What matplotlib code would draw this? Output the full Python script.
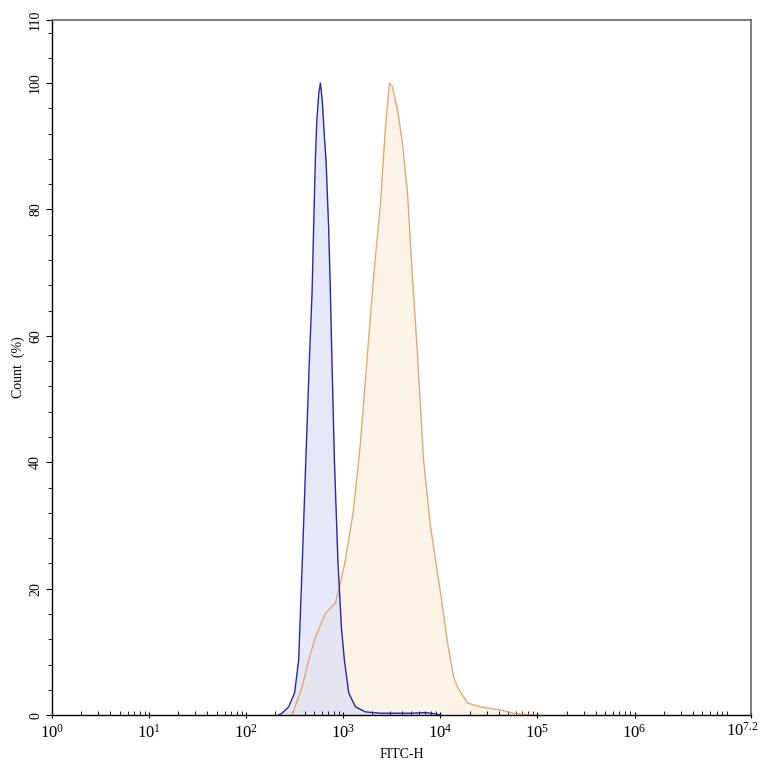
import numpy as np
import matplotlib
matplotlib.use("Agg")
import matplotlib.pyplot as plt
from matplotlib.ticker import FixedLocator, MultipleLocator, FuncFormatter, LogLocator

plt.rcParams['font.family'] = ['Liberation Serif', 'DejaVu Serif']
plt.rcParams['mathtext.fontset'] = 'custom'
plt.rcParams['mathtext.rm'] = 'Liberation Serif'
plt.rcParams['mathtext.it'] = 'Liberation Serif'

# log10(FITC-H) positions and Count (%)
blue_log = [2.331, 2.370, 2.438, 2.499, 2.541, 2.579, 2.615, 2.651, 2.679, 2.695,
            2.713, 2.728, 2.749, 2.765, 2.785, 2.806, 2.823, 2.850, 2.868, 2.881,
            2.909, 2.945, 2.981, 3.012, 3.057, 3.126, 3.229, 3.384, 3.693, 3.848,
            3.951, 4.002]
blue_y = [0, 0.3, 1.3, 3.5, 8.7, 24.5, 40.4, 56, 66.8, 77,
          87.8, 94, 98.5, 100, 97, 91.5, 87.8, 77, 66.8, 57.8,
          40.4, 24.5, 13.9, 8.7, 3.5, 1.3, 0.5, 0.3, 0.3, 0.4,
          0.2, 0]

orange_log = [2.473, 2.576, 2.644, 2.713, 2.816, 2.919, 2.971, 3.022, 3.105,
              3.177, 3.249, 3.311, 3.384, 3.435, 3.476, 3.507, 3.559, 3.610, 3.662,
              3.714, 3.765, 3.827, 3.899, 4.002, 4.075, 4.137, 4.178, 4.281, 4.415,
              4.621, 4.755, 4.962]
orange_y = [0, 4.4, 8.7, 12.3, 16.1, 17.7, 20.9, 24.5, 32.4,
            43, 57, 69, 81, 93, 100, 99.4, 95.8, 90.5, 82.6,
            69, 57, 40.4, 29.8, 19.3, 11.4, 6, 4.4, 1.9, 1.3,
            0.8, 0.3, 0]

x_tick_exp = [0, 1, 2, 3, 4, 5, 6, 7.2]
y_ticks = [0, 20, 40, 60, 80, 100, 110]

blue_x = np.power(10.0, blue_log)
orange_x = np.power(10.0, orange_log)

fig = plt.figure(figsize=(7.64, 7.64), dpi=100)
ax = fig.add_axes([0.068, 0.064, 0.915, 0.910])

ax.fill_between(orange_x, orange_y, color='#fdf0e2', alpha=0.8, lw=0)
ax.fill_between(blue_x, blue_y, color='#d6daf8', alpha=0.6, lw=0)
ax.plot(orange_x, orange_y, color='#e4a874', lw=1.0)
ax.plot(blue_x, blue_y, color='#2a26a8', lw=1.0)

ax.set_xscale('log')
ax.set_xlim(1, 10 ** 7.2)
ax.set_ylim(0, 110)

xt = [10.0 ** e for e in x_tick_exp]
ax.xaxis.set_major_locator(FixedLocator(xt))
def fmt(v, pos):
    e = np.log10(v)
    if abs(e - round(e)) < 1e-6:
        return r'$10^{%d}$' % round(e)
    return ''
ax.xaxis.set_major_formatter(FuncFormatter(fmt))
ax.xaxis.set_minor_locator(LogLocator(base=10, subs=np.arange(2, 10), numticks=20))

# last (fractional) tick label, nudged left so it stays inside the figure
last_exp = x_tick_exp[-1]
ax.annotate(r'$10^{%.1f}$' % last_exp, xy=(10.0 ** last_exp, 0), xycoords='data',
            xytext=(-6, -4.5), textcoords='offset points', ha='center', va='top',
            fontsize=12, annotation_clip=False)

ax.yaxis.set_major_locator(FixedLocator(y_ticks))
ax.yaxis.set_minor_locator(MultipleLocator(4))

ax.tick_params(axis='x', which='major', direction='inout', length=5, width=0.8, labelsize=12, pad=4)
ax.tick_params(axis='x', which='minor', direction='in', length=3, width=0.6)
ax.tick_params(axis='y', which='major', direction='out', length=4, width=0.8, labelsize=10, pad=3)
ax.tick_params(axis='y', which='minor', direction='out', length=3, width=0.6)
for lab in ax.get_yticklabels():
    lab.set_rotation(90)
    lab.set_va('center')

for s in ['top', 'right']:
    ax.spines[s].set_color('#666666')
    ax.spines[s].set_linewidth(1.2)
for s in ['left', 'bottom']:
    ax.spines[s].set_color('black')
    ax.spines[s].set_linewidth(1.0)

ax.set_xlabel('FITC-H', fontsize=10, labelpad=4)
ax.set_ylabel('Count  (%)', fontsize=10, labelpad=3)

fig.savefig('out.png', dpi=100)
